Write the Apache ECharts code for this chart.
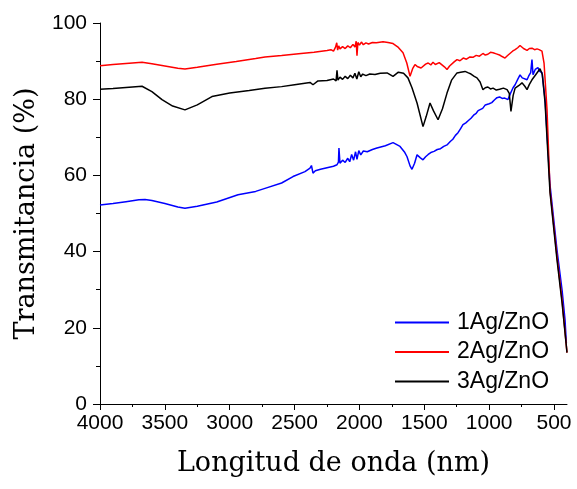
<!DOCTYPE html>
<html>
<head>
<meta charset="utf-8">
<script src="https://cdn.jsdelivr.net/npm/echarts@6/dist/echarts.min.js"></script>
<style>
  html, body { margin: 0; padding: 0; background: #ffffff; }
  #chart { width: 577px; height: 489px; }
</style>
</head>
<body>
<div id="chart"></div>
<script>
// Wavenumber positions and transmittance (%) for each sample
const wn1 = [4000,3900,3800,3700,3653,3600,3500,3400,3345,3250,3100,2936,2800,2728,2600,2512,2420,2381,2370,2358,2340,2300,2250,2200,2173,2162,2158,2150,2130,2110,2090,2075,2060,2045,2030,2019,2005,1990,1970,1940,1900,1865,1800,1741,1687,1650,1633,1610,1595,1575,1556,1530,1510,1490,1470,1450,1425,1400,1375,1350,1325,1300,1280,1260,1240,1220,1202,1180,1160,1140,1120,1100,1085,1071,1050,1030,1000,980,960,940,920,900,880,855,840,816,800,780,762,745,730,708,695,680,670,662,645,624,610,593,569,531,477,438,415,405];
const t1  = [52.2,52.6,53.1,53.6,53.7,53.4,52.6,51.7,51.4,51.9,53.0,54.9,55.8,56.6,58.0,59.7,61.0,61.9,62.6,60.6,61.2,61.6,62.0,62.4,62.8,63.5,67.2,63.2,64.0,63.4,64.5,63.6,65.5,64.0,66.2,64.2,66.5,65.4,66.4,66.2,66.8,67.2,67.8,68.6,67.6,66.0,64.9,62.5,61.6,63.2,65.4,64.6,64.1,64.9,65.5,66.0,66.3,66.8,67.0,67.6,68.0,68.9,69.5,70.5,71.2,72.3,73.3,73.8,74.4,75.0,75.8,76.3,77.0,77.2,77.6,78.5,78.8,79.1,79.8,80.4,80.6,80.2,80.3,79.9,81.2,83.0,83.8,85.2,86.4,85.6,85.9,85.1,86.1,87.0,90.4,86.4,87.8,88.3,87.3,87.0,79.9,57.5,40.4,29.9,22.0,16.0];

const wn2 = [4000,3900,3800,3676,3600,3500,3400,3345,3250,3100,2950,2800,2728,2600,2450,2350,2250,2220,2200,2185,2175,2168,2160,2150,2130,2110,2090,2070,2050,2035,2025,2019,2012,2000,1985,1970,1950,1930,1900,1870,1818,1780,1741,1700,1664,1635,1610,1590,1572,1555,1540,1525,1510,1490,1470,1450,1433,1415,1400,1385,1370,1345,1325,1305,1290,1270,1248,1225,1200,1175,1148,1125,1100,1075,1048,1030,1010,990,970,945,920,900,878,860,840,820,800,780,762,748,735,720,708,690,670,650,631,615,600,593,577,554,531,477,438,400];
const t2  = [88.8,89.1,89.4,89.7,89.3,88.7,88.1,87.9,88.4,89.2,89.9,90.7,91.1,91.5,92.0,92.3,92.8,93.0,92.6,93.6,94.8,92.9,94.0,93.2,93.8,93.3,94.0,93.5,94.4,93.7,95.2,91.4,94.9,94.2,95.0,94.3,94.8,94.5,94.9,94.8,95.1,94.9,94.6,93.6,92.2,89.5,86.0,88.0,89.1,88.6,89.0,88.2,88.5,89.2,89.5,89.0,89.7,89.1,88.9,89.6,89.3,88.5,87.8,88.7,89.0,89.8,90.4,90.1,90.8,90.5,91.1,91.0,91.5,91.3,92.0,91.6,91.8,92.3,92.2,91.9,91.6,91.2,90.8,91.4,92.0,92.6,93.0,93.5,94.1,93.6,93.3,93.0,92.8,93.3,93.4,93.0,93.2,93.0,92.8,92.6,89.5,77.2,56.2,38.6,27.2,13.5];

const wn3 = [4000,3900,3800,3676,3600,3522,3440,3345,3250,3137,3000,2850,2728,2600,2500,2381,2358,2320,2250,2200,2180,2173,2166,2150,2130,2110,2090,2070,2050,2035,2020,2005,1990,1975,1950,1920,1880,1840,1787,1741,1700,1687,1660,1626,1595,1556,1510,1485,1456,1430,1394,1360,1325,1290,1248,1220,1186,1160,1140,1115,1094,1070,1048,1030,1010,990,970,945,920,890,862,845,832,815,800,785,770,747,725,708,690,670,655,640,608,590,569,531,477,438,400];
const t3  = [82.6,82.8,83.1,83.4,82.0,79.9,78.2,77.2,78.5,80.7,81.6,82.3,82.9,83.3,83.8,84.4,83.8,84.8,84.9,85.3,84.8,87.6,85.0,85.8,85.2,86.0,85.4,86.3,85.6,86.8,85.3,87.2,85.9,86.6,86.2,86.6,86.5,86.8,86.9,86.0,87.1,87.3,86.8,85.6,83.0,79.0,72.8,75.5,79.0,77.0,74.6,77.5,81.6,85.0,86.9,87.1,87.3,86.9,86.6,86.0,85.6,84.5,82.5,83.0,83.2,82.7,82.9,82.4,82.6,82.9,82.5,81.5,76.8,81.0,82.9,83.2,83.6,84.3,83.4,82.5,83.9,85.1,84.6,86.5,88.0,86.5,79.0,55.5,37.8,26.5,13.5];

const seriesNames = ['1Ag/ZnO', '2Ag/ZnO', '3Ag/ZnO'];
const xMajorTicks = [4000,3500,3000,2500,2000,1500,1000,500];
const xMinorTicks = [3750,3250,2750,2250,1750,1250,750];

const pairs = (xs, ys) => xs.map((x, i) => [x, ys[i]]);

const chart = echarts.init(document.getElementById('chart'), null, { renderer: 'canvas' });

const axisLine = { show: true, lineStyle: { color: '#000', width: 1 } };
const labelFont = { color: '#000', fontFamily: 'Liberation Sans, Arial, sans-serif', fontSize: 21 };
const titleFont = { color: '#000', fontFamily: 'DejaVu Serif, serif', fontSize: 27 };

chart.setOption({
  animation: false,
  backgroundColor: '#ffffff',
  grid: { left: 100, right: 10, top: 23, bottom: 85, containLabel: false },
  xAxis: [
    {
      type: 'value', inverse: true, min: 400, max: 4000,
      name: 'Longitud de onda (nm)', nameLocation: 'middle', nameGap: 46,
      nameTextStyle: titleFont,
      axisLine: axisLine,
      axisTick: { show: true, inside: false, length: 6, customValues: xMajorTicks, lineStyle: { color: '#000' } },
      axisLabel: Object.assign({ margin: 9, customValues: xMajorTicks, formatter: v => String(v) }, labelFont),
      splitLine: { show: false }
    },
    {
      type: 'value', inverse: true, min: 400, max: 4000, position: 'bottom',
      axisLine: { show: false },
      axisTick: { show: true, length: 3, customValues: xMinorTicks, lineStyle: { color: '#000' } },
      axisLabel: { show: false },
      splitLine: { show: false }
    }
  ],
  yAxis: {
    type: 'value', min: 0, max: 100, interval: 20,
    name: 'Transmitancia (%)', nameLocation: 'middle', nameGap: 60,
    nameTextStyle: titleFont,
    axisLine: axisLine,
    axisTick: { show: true, length: 7, lineStyle: { color: '#000' } },
    minorTick: { show: true, splitNumber: 2, length: 4, lineStyle: { color: '#000' } },
    axisLabel: Object.assign({ margin: 13 }, labelFont),
    splitLine: { show: false }
  },
  legend: {
    orient: 'vertical', left: 395, top: 311, padding: 0,
    icon: 'rect', itemWidth: 54, itemHeight: 2, itemGap: 6.5,
    textStyle: { color: '#000', fontFamily: 'Liberation Sans, Arial, sans-serif', fontSize: 23, lineHeight: 23, padding: [0, 0, 0, 3] },
    data: seriesNames
  },
  series: [
    { name: seriesNames[0], type: 'line', data: pairs(wn1, t1), color: '#0000ff', showSymbol: false, symbol: 'none', lineStyle: { width: 1.5 } },
    { name: seriesNames[1], type: 'line', data: pairs(wn2, t2), color: '#ff0000', showSymbol: false, symbol: 'none', lineStyle: { width: 1.5 } },
    { name: seriesNames[2], type: 'line', data: pairs(wn3, t3), color: '#000000', showSymbol: false, symbol: 'none', lineStyle: { width: 1.5 } }
  ]
});
</script>
</body>
</html>
